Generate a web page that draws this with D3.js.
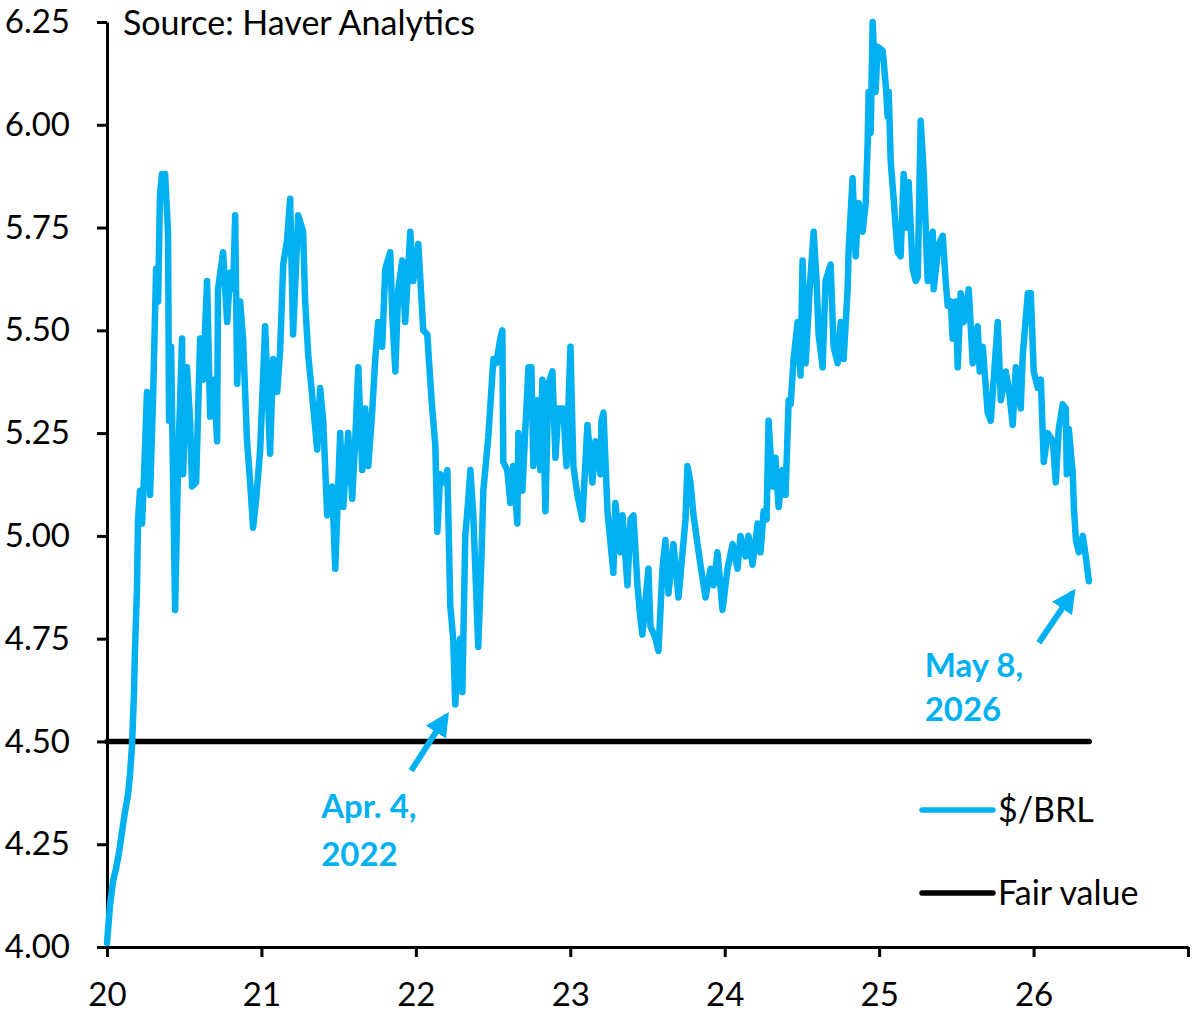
<!DOCTYPE html>
<html>
<head>
<meta charset="utf-8">
<script src="https://cdn.jsdelivr.net/npm/d3@7"></script>
<style>
  body { margin: 0; background: #fff; }
  svg { display: block; font-family: Lato, "Open Sans", sans-serif; }
</style>
</head>
<body>
<div id="chart"></div>
<script>
// $/BRL, decimal year (20 = Jan 2020) and level
const years = [
  20.000, 20.019, 20.039, 20.058, 20.078, 20.097, 20.117, 20.136, 20.149, 20.162,
  20.175, 20.181, 20.194, 20.201, 20.214, 20.227, 20.240, 20.259, 20.279, 20.298,
  20.318, 20.331, 20.343, 20.356, 20.376, 20.395, 20.402, 20.415, 20.441, 20.460,
  20.486, 20.493, 20.518, 20.538, 20.551, 20.577, 20.603, 20.622, 20.648, 20.668,
  20.693, 20.713, 20.719, 20.752, 20.778, 20.797, 20.817, 20.830, 20.843, 20.862,
  20.881, 20.907, 20.927, 20.946, 20.966, 20.992, 21.024, 21.056, 21.076, 21.102,
  21.121, 21.141, 21.166, 21.186, 21.205, 21.238, 21.270, 21.283, 21.303, 21.329,
  21.361, 21.380, 21.400, 21.426, 21.458, 21.478, 21.510, 21.530, 21.562, 21.588,
  21.607, 21.627, 21.653, 21.672, 21.692, 21.717, 21.737, 21.756, 21.782, 21.802,
  21.834, 21.847, 21.867, 21.886, 21.912, 21.931, 21.964, 21.983, 22.016, 22.048,
  22.074, 22.093, 22.106, 22.126, 22.139, 22.158, 22.184, 22.204, 22.223, 22.242,
  22.255, 22.275, 22.288, 22.301, 22.320, 22.340, 22.353, 22.372, 22.404, 22.424,
  22.437, 22.469, 22.502, 22.521, 22.547, 22.560, 22.566, 22.592, 22.612, 22.631,
  22.657, 22.664, 22.690, 22.709, 22.729, 22.748, 22.761, 22.787, 22.806, 22.819,
  22.839, 22.858, 22.884, 22.904, 22.923, 22.955, 22.975, 23.001, 23.020, 23.046,
  23.078, 23.111, 23.143, 23.163, 23.195, 23.202, 23.215, 23.241, 23.279, 23.292,
  23.325, 23.338, 23.370, 23.390, 23.409, 23.435, 23.454, 23.467, 23.506, 23.519,
  23.552, 23.571, 23.597, 23.616, 23.636, 23.668, 23.701, 23.727, 23.746, 23.759,
  23.778, 23.798, 23.824, 23.843, 23.876, 23.908, 23.928, 23.953, 23.986, 24.018,
  24.051, 24.083, 24.102, 24.135, 24.154, 24.180, 24.213, 24.232, 24.252, 24.271,
  24.284, 24.310, 24.329, 24.349, 24.375, 24.394, 24.414, 24.427, 24.446, 24.472,
  24.491, 24.504, 24.524, 24.550, 24.576, 24.595, 24.608, 24.634, 24.653, 24.686,
  24.705, 24.731, 24.751, 24.770, 24.796, 24.802, 24.828, 24.848, 24.867, 24.893,
  24.913, 24.926, 24.932, 24.945, 24.958, 24.977, 24.990, 25.023, 25.042, 25.055,
  25.062, 25.075, 25.094, 25.107, 25.120, 25.139, 25.159, 25.178, 25.191, 25.217,
  25.237, 25.250, 25.269, 25.289, 25.314, 25.334, 25.347, 25.353, 25.386, 25.412,
  25.431, 25.444, 25.464, 25.476, 25.496, 25.509, 25.528, 25.548, 25.580, 25.606,
  25.638, 25.651, 25.671, 25.703, 25.723, 25.768, 25.788, 25.820, 25.839, 25.865,
  25.885, 25.917, 25.930, 25.963, 25.982, 26.001, 26.027, 26.047, 26.066, 26.092,
  26.125, 26.144, 26.163, 26.189, 26.209, 26.215, 26.228, 26.254, 26.261, 26.274,
  26.293, 26.319, 26.338, 26.358
];
const usdBrl = [
  4.01, 4.10, 4.16, 4.19, 4.23, 4.28, 4.33, 4.37, 4.42, 4.49,
  4.62, 4.72, 4.87, 5.04, 5.11, 5.03, 5.15, 5.35, 5.10, 5.33,
  5.65, 5.57, 5.83, 5.88, 5.88, 5.74, 5.28, 5.46, 4.82, 5.17,
  5.48, 5.15, 5.41, 5.28, 5.12, 5.13, 5.48, 5.38, 5.62, 5.29,
  5.38, 5.23, 5.60, 5.69, 5.52, 5.64, 5.60, 5.78, 5.37, 5.57,
  5.48, 5.23, 5.13, 5.02, 5.09, 5.21, 5.51, 5.20, 5.43, 5.35,
  5.45, 5.66, 5.72, 5.82, 5.49, 5.78, 5.74, 5.57, 5.44, 5.34,
  5.21, 5.36, 5.28, 5.05, 5.12, 4.92, 5.25, 5.07, 5.25, 5.09,
  5.23, 5.41, 5.16, 5.31, 5.17, 5.30, 5.43, 5.52, 5.46, 5.65,
  5.69, 5.54, 5.40, 5.60, 5.67, 5.52, 5.74, 5.62, 5.71, 5.50,
  5.49, 5.38, 5.31, 5.22, 5.01, 5.15, 5.13, 5.16, 4.83, 4.75,
  4.59, 4.72, 4.75, 4.62, 5.00, 5.09, 5.16, 5.05, 4.73, 4.94,
  5.11, 5.24, 5.43, 5.42, 5.48, 5.50, 5.18, 5.16, 5.08, 5.17,
  5.03, 5.25, 5.11, 5.26, 5.41, 5.41, 5.17, 5.33, 5.16, 5.38,
  5.06, 5.37, 5.40, 5.19, 5.31, 5.31, 5.17, 5.46, 5.17, 5.10,
  5.04, 5.27, 5.13, 5.23, 5.15, 5.28, 5.30, 5.06, 4.91, 5.08,
  4.96, 5.05, 4.88, 5.04, 5.05, 4.88, 4.80, 4.76, 4.92, 4.78,
  4.75, 4.72, 4.92, 4.99, 4.86, 4.98, 4.85, 4.96, 5.04, 5.17,
  5.13, 5.05, 4.98, 4.93, 4.85, 4.92, 4.88, 4.96, 4.82, 4.92,
  4.98, 4.92, 5.00, 4.95, 5.00, 4.93, 5.03, 4.96, 5.06, 5.04,
  5.28, 5.12, 5.19, 5.07, 5.16, 5.10, 5.33, 5.32, 5.43, 5.52,
  5.39, 5.67, 5.42, 5.60, 5.74, 5.62, 5.49, 5.41, 5.62, 5.66,
  5.46, 5.42, 5.52, 5.43, 5.60, 5.69, 5.87, 5.68, 5.81, 5.74,
  5.81, 5.96, 6.08, 5.98, 6.25, 6.08, 6.19, 6.18, 6.10, 6.02,
  6.08, 5.91, 5.82, 5.75, 5.69, 5.68, 5.88, 5.75, 5.86, 5.65,
  5.62, 5.63, 6.01, 5.88, 5.62, 5.72, 5.74, 5.60, 5.71, 5.73,
  5.62, 5.56, 5.57, 5.48, 5.57, 5.41, 5.59, 5.52, 5.60, 5.42,
  5.51, 5.40, 5.46, 5.30, 5.28, 5.52, 5.33, 5.40, 5.36, 5.27,
  5.41, 5.31, 5.44, 5.59, 5.59, 5.40, 5.36, 5.38, 5.18, 5.25,
  5.23, 5.13, 5.26, 5.32, 5.31, 5.15, 5.26, 5.15, 5.07, 4.99,
  4.96, 5.00, 4.95, 4.89
];

const fairValue = 4.5;
const fairSpan = [20, 26.36];

const yTicks = [4.00, 4.25, 4.50, 4.75, 5.00, 5.25, 5.50, 5.75, 6.00, 6.25];
const xTicks = [20, 21, 22, 23, 24, 25, 26, 27];
const xTickLabels = ["20", "21", "22", "23", "24", "25", "26", ""];

const seriesNames = ["$/BRL", "Fair value"];
const sourceNote = "Source: Haver Analytics";

// annotations: text lines, text anchor [year, value], arrow [from, to]
const notes = [
  { lines: ["Apr. 4,", "2022"], at: [21.387, 4.341], lineGap: 0.115,
    from: [21.970, 4.429], to: [22.197, 4.562] },
  { lines: ["May 8,", "2026"], at: [25.295, 4.684], lineGap: 0.107,
    from: [26.034, 4.740], to: [26.254, 4.862] }
];

const blue = "#00b0f0";
const W = 1200, H = 1020;

const x = d3.scaleLinear().domain([20, 27]).range([107, 1188]);
const y = d3.scaleLinear().domain([4, 6.25]).range([947, 22]);

const svg = d3.select("#chart").append("svg")
  .attr("width", W).attr("height", H);

// axes
const yAxis = svg.append("g")
  .attr("transform", `translate(${x(20)},0)`)
  .call(d3.axisLeft(y).tickValues(yTicks).tickFormat(d3.format(".2f"))
    .tickSize(10).tickSizeOuter(0).tickPadding(27));

const xAxis = svg.append("g")
  .attr("transform", `translate(0,${y(4)})`)
  .call(d3.axisBottom(x).tickValues(xTicks).tickFormat((d, i) => xTickLabels[i])
    .tickSize(10).tickSizeOuter(0).tickPadding(26));

[yAxis, xAxis].forEach(g => {
  g.select(".domain").attr("stroke", "#000").attr("stroke-width", 3);
  g.selectAll(".tick line").attr("stroke", "#000").attr("stroke-width", 3);
  g.selectAll(".tick text")
    .attr("fill", "#000")
    .style("font-family", "Lato, 'Open Sans', sans-serif")
    .style("font-size", "33px");
});

// fair value line
svg.append("line")
  .attr("x1", x(fairSpan[0])).attr("x2", x(fairSpan[1]))
  .attr("y1", y(fairValue)).attr("y2", y(fairValue))
  .attr("stroke", "#000").attr("stroke-width", 5.5)
  .attr("stroke-linecap", "round");

// $/BRL series
const pts = years.map((yr, i) => [yr, usdBrl[i]]);
svg.append("path")
  .datum(pts)
  .attr("fill", "none")
  .attr("stroke", blue)
  .attr("stroke-width", 6.5)
  .attr("stroke-linejoin", "round")
  .attr("stroke-linecap", "round")
  .attr("d", d3.line().x(d => x(d[0])).y(d => y(d[1])));

// source note
svg.append("text")
  .attr("x", 123).attr("y", 35)
  .attr("font-size", 34)
  .attr("fill", "#000")
  .text(sourceNote);

// arrow marker
svg.append("defs").append("marker")
  .attr("id", "head")
  .attr("viewBox", "0 0 10 10")
  .attr("refX", 8).attr("refY", 5)
  .attr("markerWidth", 4).attr("markerHeight", 4)
  .attr("markerUnits", "strokeWidth")
  .attr("orient", "auto")
  .append("path")
  .attr("d", "M0,0 L10,5 L0,10 Z")
  .attr("fill", blue);

notes.forEach(n => {
  svg.append("line")
    .attr("x1", x(n.from[0])).attr("y1", y(n.from[1]))
    .attr("x2", x(n.to[0])).attr("y2", y(n.to[1]))
    .attr("stroke", blue).attr("stroke-width", 6)
    .attr("marker-end", "url(#head)");
  n.lines.forEach((t, i) => {
    svg.append("text")
      .attr("x", x(n.at[0]))
      .attr("y", y(n.at[1] - i * n.lineGap))
      .attr("dy", "0.35em")
      .attr("font-size", 33)
      .attr("font-weight", "bold")
      .attr("fill", blue)
      .text(t);
  });
});

// legend
const legend = svg.append("g").attr("transform", "translate(922,810)");
const legendColors = [blue, "#000"];
seriesNames.forEach((name, i) => {
  const g = legend.append("g").attr("transform", `translate(0,${i * 83})`);
  g.append("line")
    .attr("x1", 0).attr("x2", 71)
    .attr("stroke", legendColors[i]).attr("stroke-width", 5.5)
    .attr("stroke-linecap", "round");
  g.append("text")
    .attr("x", 76).attr("dy", "0.35em")
    .attr("font-size", 34)
    .attr("fill", "#000")
    .text(name);
});
</script>
</body>
</html>
